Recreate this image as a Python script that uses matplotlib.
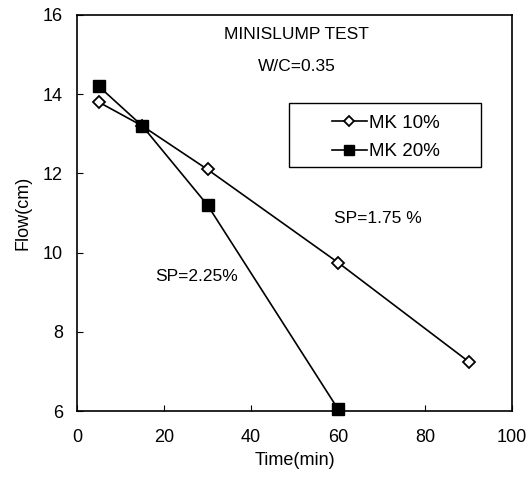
import matplotlib
matplotlib.use('Agg')
import matplotlib.pyplot as plt
import matplotlib.patches as patches

plt.rcParams['font.family'] = ['Liberation Sans', 'DejaVu Sans']

time_mk10 = [5, 15, 30, 60, 90]
flow_mk10 = [13.8, 13.2, 12.1, 9.75, 7.25]
time_mk20 = [5, 15, 30, 60]
flow_mk20 = [14.2, 13.2, 11.2, 6.05]
x_ticks = [0, 20, 40, 60, 80, 100]
y_ticks = [6, 8, 10, 12, 14, 16]

fig = plt.figure(figsize=(5.28, 4.92), dpi=100)
# axes box: x 77..512 px, y 15..411 px
ax = fig.add_axes([77/528, 1 - 411/492, 435/528, 396/492])

ax.plot(time_mk10, flow_mk10, color='black', lw=1.2, marker='D', ms=6,
        mfc='white', mec='black', mew=1.3, label='MK 10%', clip_on=False, zorder=3)
ax.plot(time_mk20, flow_mk20, color='black', lw=1.2, marker='s', ms=8.5,
        mfc='black', mec='black', label='MK 20%', clip_on=False, zorder=3)

ax.set_xlim(0, 100)
ax.set_ylim(6, 16)
ax.set_xticks(x_ticks)
ax.set_yticks(y_ticks)
ax.tick_params(direction='in', length=4, labelsize=13)
ax.tick_params(axis='x', pad=13)
ax.tick_params(axis='y', pad=10)
for s in ax.spines.values():
    s.set_linewidth(1.2)

ax.set_xlabel('Time(min)', fontsize=13, labelpad=4)
ax.set_ylabel('Flow(cm)', fontsize=13, labelpad=8)

ax.text(50.5, 15.52, 'MINISLUMP TEST', ha='center', va='center', fontsize=12.5)
ax.text(50.5, 14.7, 'W/C=0.35', ha='center', va='center', fontsize=12.5)
ax.text(69.2, 10.85, 'SP=1.75 %', ha='center', va='center', fontsize=12.5)
ax.text(27.4, 9.4, 'SP=2.25%', ha='center', va='center', fontsize=12.5)

# legend entries without frame, frame box drawn separately (wide box, like reference)
leg = ax.legend(loc='upper left', bbox_to_anchor=(0.586, 0.748), fontsize=13.5,
                frameon=False, borderpad=0, borderaxespad=0,
                handlelength=1.85, handletextpad=0.15, labelspacing=0.6,
                markerscale=0.85)
ax.add_patch(patches.Rectangle((0.487, 0.616), 0.442, 0.162, transform=ax.transAxes,
                               fill=False, edgecolor='black', lw=1.0, zorder=4))

fig.savefig('out.png', dpi=100)
